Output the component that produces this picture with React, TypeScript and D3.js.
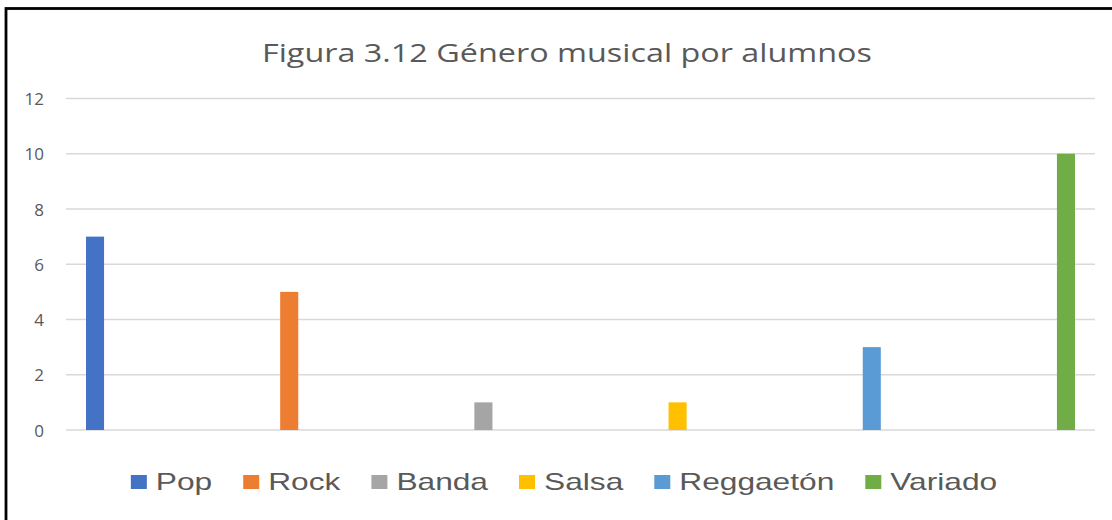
import React, { useEffect, useRef } from 'react';
import * as d3 from 'd3';

const genres = ['Pop', 'Rock', 'Banda', 'Salsa', 'Reggaetón', 'Variado'];
const counts = [7, 5, 1, 1, 3, 10];
const colors = ['#4472C4', '#ED7D31', '#A5A5A5', '#FFC000', '#5B9BD5', '#70AD47'];
const yTicks = [0, 2, 4, 6, 8, 10, 12];
const title = 'Figura 3.12 Género musical por alumnos';

export default function App() {
  const ref = useRef<SVGSVGElement | null>(null);

  useEffect(() => {
    const svg = d3.select(ref.current);
    svg.selectAll('*').remove();

    const W = 1112, H = 520;
    const left = 66, right = 1095, top = 98.5, bottom = 430;

    svg.append('rect').attr('x', 0).attr('y', 0).attr('width', W).attr('height', H).attr('fill', '#fff');
    svg.append('rect')
      .attr('x', 6).attr('y', 8.5).attr('width', 1300).attr('height', 700)
      .attr('fill', '#fff').attr('stroke', '#000').attr('stroke-width', 2.8);

    const x = d3.scaleBand<string>().domain(genres).range([left, right]).paddingInner(0.907).paddingOuter(0.103);
    const y = d3.scaleLinear().domain([0, 12]).range([bottom, top]);

    // title
    svg.append('text')
      .attr('x', 567).attr('y', 62)
      .attr('text-anchor', 'middle')
      .attr('font-family', '"Open Sans", sans-serif')
      .attr('font-size', 26)
      .attr('fill', '#595959')
      .attr('textLength', 610)
      .attr('lengthAdjust', 'spacingAndGlyphs')
      .text(title);

    // gridlines
    svg.append('g').selectAll('line').data(yTicks).join('line')
      .attr('x1', left).attr('x2', right)
      .attr('y1', d => y(d)).attr('y2', d => y(d))
      .attr('stroke', '#D9D9D9').attr('stroke-width', 1.4);

    // y tick labels
    svg.append('g').selectAll('text').data(yTicks).join('text')
      .attr('x', 44).attr('y', d => y(d) + 6.5)
      .attr('text-anchor', 'end')
      .attr('font-family', '"Open Sans", sans-serif')
      .attr('font-size', 17)
      .attr('fill', '#595959')
      .text(d => String(d));

    // bars
    svg.append('g').selectAll('rect').data(genres).join('rect')
      .attr('x', d => x(d) as number)
      .attr('width', x.bandwidth())
      .attr('y', (d, i) => y(counts[i]))
      .attr('height', (d, i) => y(0) - y(counts[i]))
      .attr('fill', (d, i) => colors[i]);

    // legend
    const stretch = 1.32;
    const sqW = 16, sqH = 14, gapIn = 9, gapOut = 31;
    const lg = svg.append('g');
    const items = genres.map((g, i) => {
      const t = lg.append('text')
        .attr('font-family', '"Liberation Sans", Arial, sans-serif')
        .attr('font-size', 24)
        .attr('fill', '#595959')
        .text(g);
      const w = (t.node() as SVGTextElement).getComputedTextLength() * stretch;
      t.attr('textLength', w).attr('lengthAdjust', 'spacingAndGlyphs');
      return { t, w, i };
    });
    const total = items.reduce((s, it) => s + sqW + gapIn + it.w, 0) + gapOut * (items.length - 1);
    let cx = 564 - total / 2;
    items.forEach(it => {
      lg.append('rect')
        .attr('x', cx).attr('y', 475).attr('width', sqW).attr('height', sqH)
        .attr('fill', colors[it.i]);
      cx += sqW + gapIn;
      it.t.attr('x', cx).attr('y', 490);
      cx += it.w + gapOut;
    });
  }, []);

  return (
    <svg ref={ref} width={1112} height={520}
      style={{ position: 'absolute', left: 0, top: 0, display: 'block' }} />
  );
}
